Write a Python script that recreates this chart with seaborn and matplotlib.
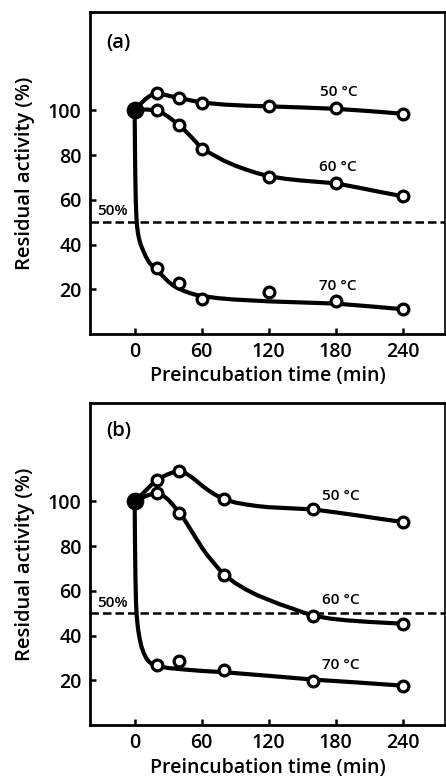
import matplotlib
matplotlib.use("Agg")
import matplotlib.pyplot as plt
import seaborn as sns

# ---------------- data ----------------
# panel (a) measured points
t_a = [20, 40, 60, 120, 180, 240]
a50 = [108.0, 105.5, 103.5, 101.8, 101.2, 98.5]
a60 = [100.0, 93.3, 82.7, 70.4, 67.7, 61.5]
a70 = [29.6, 23.0, 15.6, 18.8, 14.8, 11.1]

# panel (a) drawn fit curves
c50a_t = [0, 5, 10, 15, 20, 25, 30, 40, 50, 60, 80, 100, 120, 150, 180, 210, 240]
c50a_y = [100, 102.8, 105.2, 106.9, 107.6, 107.3, 106.6, 105.5, 104.5, 103.5, 102.6, 102.1, 101.8, 101.3, 100.7, 99.7, 98.5]
c60a_t = [0, 10, 20, 25, 30, 35, 40, 45, 50, 55, 60, 70, 80, 90, 100, 110, 120, 135, 150, 165, 180, 200, 220, 240]
c60a_y = [100, 100.4, 100, 98.8, 97.2, 95.3, 93.3, 91, 88.5, 85.8, 83, 80.2, 77.5, 75.3, 73.5, 71.9, 70.6, 69.4, 68.6, 68, 67.4, 65.5, 63.5, 61.6]
c70a_t = [0, 0.3, 0.6, 1.0, 1.5, 2.2, 3, 4, 5.5, 7.5, 10, 13, 16, 20, 25, 30, 35, 40, 45, 50, 55, 60, 75, 90, 120, 150, 180, 210, 240]
c70a_y = [100, 82, 70, 60, 53, 48, 45, 42.5, 39.8, 37.5, 34.6, 32, 30.3, 28.5, 26, 23.5, 21.5, 20.2, 19.1, 18.2, 17.5, 17, 16, 15.4, 14.6, 14.1, 13.6, 12.4, 11.1]

# panel (b) measured points
t_b = [20, 40, 80, 160, 240]
b50 = [109.7, 113.8, 101.0, 96.6, 90.8]
b60 = [103.8, 95.0, 66.9, 48.7, 45.3]
b70 = [26.7, 28.4, 24.4, 19.8, 17.6]

# panel (b) drawn fit curves
c50b_t = [0, 5, 10, 15, 20, 25, 30, 35, 40, 45, 50, 55, 60, 65, 70, 75, 80, 90, 100, 110, 120, 140, 160, 180, 200, 220, 240]
c50b_y = [100, 102.4, 104.9, 107.4, 109.7, 111, 112.2, 113.1, 113.5, 112.8, 111.2, 109.3, 107.2, 105.3, 103.6, 102.2, 101, 99.5, 98.6, 97.9, 97.4, 96.9, 96.4, 95.1, 93.7, 92.2, 90.8]
c60b_t = [0, 10, 20, 25, 30, 35, 40, 45, 50, 55, 60, 65, 70, 75, 80, 90, 100, 110, 120, 130, 140, 150, 160, 175, 190, 210, 240]
c60b_y = [100, 102.4, 104, 102.8, 100.8, 98, 95, 91.5, 87.5, 83.5, 79.5, 76, 73, 70, 67.3, 63.5, 60.5, 58, 56, 54, 52.3, 50.5, 48.9, 47.6, 46.8, 46.1, 45.3]
c70b_t = [0, 0.3, 0.7, 1.2, 1.8, 3, 4.5, 6, 8, 10.5, 13, 16, 20, 30, 45, 60, 80, 120, 160, 200, 240]
c70b_y = [100, 82, 66, 55, 49, 43, 38.5, 35.2, 32.3, 29.8, 28.2, 27.1, 26.4, 25.5, 24.8, 24.2, 23.6, 22, 20.3, 19, 17.6]

start_t = [0]
start_y = [100]

x_ticks = [0, 60, 120, 180, 240]
y_ticks = [20, 40, 60, 80, 100]
temp_labels = ["50 °C", "60 °C", "70 °C"]
panel_labels = ["(a)", "(b)"]
half_label = "50%"
x_title = "Preincubation time (min)"
y_title = "Residual activity (%)"

# ---------------- style ----------------
sns.set_style("ticks")
plt.rcParams["font.family"] = ["Open Sans", "DejaVu Sans"]
plt.rcParams["font.weight"] = "semibold"
plt.rcParams["text.color"] = "black"
plt.rcParams["axes.labelcolor"] = "black"
plt.rcParams["axes.labelweight"] = "semibold"
plt.rcParams["xtick.color"] = "black"
plt.rcParams["ytick.color"] = "black"

fig = plt.figure(figsize=(4.46, 7.77), dpi=100)
W, H = 446, 777
ax_a = fig.add_axes([90 / W, 1 - 334 / H, 355 / W, 322 / H])
ax_b = fig.add_axes([90 / W, 1 - 725 / H, 355 / W, 322 / H])

LW = 3.0

panels = [
    (ax_a, panel_labels[0],
     [(c50a_t, c50a_y), (c60a_t, c60a_y), (c70a_t, c70a_y)],
     [(t_a, a50), (t_a, a60), (t_a, a70)],
     [(183, 108.1), (182, 74.8), (182, 21.5)], 130, 54.8),
    (ax_b, panel_labels[1],
     [(c50b_t, c50b_y), (c60b_t, c60b_y), (c70b_t, c70b_y)],
     [(t_b, b50), (t_b, b60), (t_b, b70)],
     [(185, 102.5), (185, 56.0), (185, 26.9)], 131.5, 54.6),
]

for ax, plab, curves, points, tpos, plab_y, half_y in panels:
    ax.axhline(50, color="black", lw=1.8, ls=(0, (3.4, 1.6)), zorder=1)
    for ct, cy in curves:
        sns.lineplot(x=ct, y=cy, ax=ax, color="black", lw=LW, sort=False,
                     estimator=None, zorder=2)
    for pt, py in points:
        sns.scatterplot(x=pt, y=py, ax=ax, s=60, color="white",
                        edgecolor="black", linewidth=2.3, zorder=3)
    sns.scatterplot(x=start_t, y=start_y, ax=ax, s=150, color="black",
                    edgecolor="black", linewidth=0.5, zorder=4)
    for lab, (tx, ty) in zip(temp_labels, tpos):
        ax.text(tx, ty, lab, ha="center", va="center", fontsize=11)
    ax.text(-25, plab_y, plab, ha="left", va="center", fontsize=14.5)
    ax.text(-34, half_y, half_label, ha="left", va="center", fontsize=11)

    ax.set_xlim(-40, 278)
    ax.set_ylim(0, 144)
    ax.set_xticks(x_ticks)
    ax.set_yticks(y_ticks)
    ax.tick_params(direction="in", length=4, width=1.8, labelsize=14, pad=6)
    ax.set_xlabel(x_title, fontsize=14, labelpad=3)
    ax.set_ylabel(y_title, fontsize=14.5, labelpad=9)
    for sp in ax.spines.values():
        sp.set_visible(True)
        sp.set_linewidth(2.0)
        sp.set_color("black")
    ax.spines["right"].set_linewidth(1.2)

fig.savefig("out.png", dpi=100, facecolor="white")
